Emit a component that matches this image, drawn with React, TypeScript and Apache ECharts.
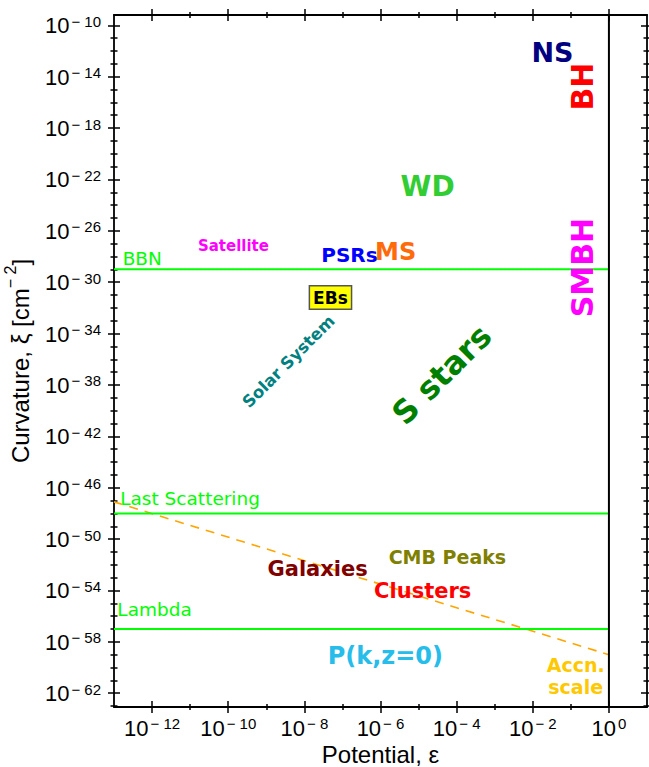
import React, { useEffect, useRef } from 'react';
import * as echarts from 'echarts';

const W = 649;
const H = 767;

// Axis ranges (actual values)
const xRange = [1e-13, 1e1];
const yRange = [8.5e-64, 6.3e-10];

// Tick exponents
const xMajorExp = [-12, -10, -8, -6, -4, -2, 0];
const xMinorExp = [-11, -9, -7, -5, -3, -1];
const yMajorExp = [-62, -58, -54, -50, -46, -42, -38, -34, -30, -26, -22, -18, -14, -10];
const yMinorExp = [
  -63, -61, -60, -59, -57, -56, -55, -53, -52, -51, -49, -48, -47, -45, -44, -43,
  -41, -40, -39, -37, -36, -35, -33, -32, -31, -29, -28, -27, -25, -24, -23, -21,
  -20, -19, -17, -16, -15, -13, -12, -11,
];

// Horizontal reference levels
const levelNames = ['BBN', 'Last Scattering', 'Lambda'];
const levelCurvature = [1e-29, 1e-48, 1e-57];
const levelLineX = [1e-13, 1];
const levelLabelX = [1.74e-13, 1.5e-13, 1.26e-13];
const levelLabelY = [6.3e-29, 1.26e-47, 2.9e-56];

// Unit potential line
const unitPotential = 1;

// Acceleration scale (dashed)
const accnX = [1e-13, 1];
const accnY = [7.9e-48, 1e-59];

// Annotations
const annotNames = [
  'NS', 'BH', 'WD', 'SMBH', 'Satellite', 'PSRs', 'MS', 'EBs', 'Solar System',
  'S stars', 'CMB Peaks', 'Galaxies', 'Clusters', 'P(k,z=0)', 'Accn.\nscale',
];
const annotX = [
  3.4e-2, 0.21, 1.78e-5, 0.21, 1.41e-10, 1.58e-7, 2.57e-6, 5.0e-8, 4.0e-9,
  4.2e-5, 5.9e-5, 2.3e-8, 1.32e-5, 1.38e-6, 0.138,
];
const annotY = [
  7.2e-13, 1.55e-15, 2.5e-23, 1.26e-29, 6.5e-28, 1.26e-28, 2.2e-28, 5.75e-32, 6.0e-37,
  5.75e-38, 3.9e-52, 4.5e-53, 8.7e-55, 7.6e-60, 2.1e-61,
];

// Styles (kept separate from data)
const annotStyle: Record<string, any> = {
  NS: { color: '#000080', fontSize: 27 },
  BH: { color: '#FF0000', fontSize: 30, rotate: 90 },
  WD: { color: '#32CD32', fontSize: 28 },
  SMBH: { color: '#FF00FF', fontSize: 30, rotate: 90 },
  Satellite: { color: '#FF00FF', fontSize: 15 },
  PSRs: { color: '#0000FF', fontSize: 20 },
  MS: { color: '#FF6A0A', fontSize: 24 },
  EBs: {
    color: '#000000', fontSize: 17, backgroundColor: '#FFFF00', borderColor: '#555555',
    borderWidth: 1.5, padding: [3, 3, 2, 3],
  },
  'Solar System': { color: '#008080', fontSize: 16.5, rotate: 45 },
  'S stars': { color: '#007F00', fontSize: 32, rotate: 45 },
  'CMB Peaks': { color: '#808000', fontSize: 19 },
  Galaxies: { color: '#800000', fontSize: 21 },
  Clusters: { color: '#FF0000', fontSize: 21 },
  'P(k,z=0)': { color: '#26BDEB', fontSize: 24 },
  'Accn.\nscale': { color: '#FFC800', fontSize: 19, lineHeight: 22 },
};

const GREEN = '#00FF00';
const lg = Math.log10;
const tickFont = 'Liberation Sans, Arial, sans-serif';
const annotFont = 'DejaVu Sans, sans-serif';

function supText(v: number): string {
  const r = Math.round(v);
  return r < 0 ? '\u2212 ' + String(-r) : String(r);
}

const tickRich = {
  b: { fontSize: 22, fontFamily: tickFont, color: '#000', lineHeight: 23, verticalAlign: 'bottom' },
  s: { fontSize: 15, fontFamily: tickFont, color: '#000', lineHeight: 14, verticalAlign: 'top', padding: [0, 0, 0, 2] },
};

function App() {
  const ref = useRef<HTMLDivElement>(null);
  useEffect(() => {
    document.body.style.margin = '0';
    if (!ref.current) return;
    const chart = echarts.init(ref.current, null, { renderer: 'svg' });

    const xMin = lg(xRange[0]);
    const xMax = lg(xRange[1]);
    const yMin = lg(yRange[0]);
    const yMax = lg(yRange[1]);
    const lineStyle = { color: '#000', width: 1.5 };

    const base = (min: number, max: number, position: string) => ({
      type: 'value',
      min,
      max,
      position,
      splitLine: { show: false },
      axisLine: { show: false, onZero: false },
      axisTick: { show: false },
      axisLabel: { show: false },
      silent: true,
    });
    const tickAxis = (
      min: number, max: number, position: string, values: number[], inside: boolean,
      length: number, showLine: boolean,
    ) => ({
      ...base(min, max, position),
      axisLine: { show: showLine, onZero: false, lineStyle: { color: '#000', width: 1.8 } },
      axisTick: { show: true, inside, length, customValues: values, lineStyle },
    });

    const xAxes: any[] = [
      {
        ...tickAxis(xMin, xMax, 'bottom', xMajorExp, false, 6, true),
        axisLabel: {
          show: true,
          customValues: xMajorExp,
          margin: 9,
          formatter: (v: number) => `{b|10}{s|${supText(v)}}`,
          rich: tickRich,
        },
        name: 'Potential, \u03b5',
        nameLocation: 'middle',
        nameGap: 35,
        nameMoveOverlap: false,
        nameTextStyle: { fontFamily: tickFont, fontSize: 24, color: '#000' },
      },
      tickAxis(xMin, xMax, 'bottom', xMajorExp, true, 6, false),
      tickAxis(xMin, xMax, 'bottom', xMinorExp, false, 3, false),
      tickAxis(xMin, xMax, 'bottom', xMinorExp, true, 3, false),
      tickAxis(xMin, xMax, 'top', xMajorExp, false, 6, true),
      tickAxis(xMin, xMax, 'top', xMajorExp, true, 6, false),
      tickAxis(xMin, xMax, 'top', xMinorExp, false, 3, false),
      tickAxis(xMin, xMax, 'top', xMinorExp, true, 3, false),
    ];
    const yAxes: any[] = [
      {
        ...tickAxis(yMin, yMax, 'left', yMajorExp, false, 6, true),
        axisLabel: {
          show: true,
          customValues: yMajorExp,
          margin: 13,
          formatter: (v: number) => `{b|10}{s|${supText(v)}}`,
          rich: tickRich,
        },
        name: '{n|Curvature, \u03be [cm}{s|\u2212 2}{n|]}',
        nameLocation: 'middle',
        nameGap: 82,
        nameMoveOverlap: false,
        nameTextStyle: {
          rich: {
            n: { fontFamily: tickFont, fontSize: 24, color: '#000', lineHeight: 30, verticalAlign: 'bottom' },
            s: { fontFamily: tickFont, fontSize: 16, color: '#000', lineHeight: 16, verticalAlign: 'top' },
          },
        },
      },
      tickAxis(yMin, yMax, 'left', yMajorExp, true, 6, false),
      tickAxis(yMin, yMax, 'left', yMinorExp, false, 3.5, false),
      tickAxis(yMin, yMax, 'left', yMinorExp, true, 3.5, false),
      tickAxis(yMin, yMax, 'right', yMajorExp, false, 6, true),
      tickAxis(yMin, yMax, 'right', yMajorExp, true, 6, false),
      tickAxis(yMin, yMax, 'right', yMinorExp, false, 3.5, false),
      tickAxis(yMin, yMax, 'right', yMinorExp, true, 3.5, false),
    ];

    const series: any[] = [];

    levelNames.forEach((name, i) => {
      series.push({
        type: 'line',
        name,
        xAxisIndex: 0,
        yAxisIndex: 0,
        showSymbol: false,
        silent: true,
        data: levelLineX.map((x) => [lg(x), lg(levelCurvature[i])]),
        lineStyle: { color: GREEN, width: 2 },
        z: 3,
      });
    });

    series.push({
      type: 'line',
      name: 'unit',
      showSymbol: false,
      silent: true,
      data: [
        [lg(unitPotential), yMin],
        [lg(unitPotential), yMax],
      ],
      lineStyle: { color: '#000', width: 2 },
      z: 3,
    });

    series.push({
      type: 'line',
      name: 'accn',
      showSymbol: false,
      silent: true,
      data: accnX.map((x, i) => [lg(x), lg(accnY[i])]),
      lineStyle: { color: '#FFA500', width: 1.6, type: [9, 7] },
      z: 2,
    });

    series.push({
      type: 'scatter',
      name: 'levels',
      symbolSize: 1,
      silent: true,
      itemStyle: { color: 'rgba(0,0,0,0)', opacity: 1 },
      data: levelNames.map((name, i) => ({
        value: [lg(levelLabelX[i]), lg(levelLabelY[i])],
        label: {
          show: true,
          position: [0, 0],
          align: 'left',
          verticalAlign: 'middle',
          formatter: name,
          color: GREEN,
          fontFamily: annotFont,
          fontSize: 18.5,
          textBorderWidth: 0,
          opacity: 1,
        },
      })),
      z: 5,
    });

    series.push({
      type: 'scatter',
      name: 'annotations',
      symbolSize: 1,
      silent: true,
      itemStyle: { color: 'rgba(0,0,0,0)', opacity: 1 },
      data: annotNames.map((name, i) => ({
        value: [lg(annotX[i]), lg(annotY[i])],
        label: {
          show: true,
          position: [0, 0],
          align: 'center',
          verticalAlign: 'middle',
          formatter: name,
          fontFamily: annotFont,
          fontWeight: 'bold',
          textBorderWidth: 0,
          opacity: 1,
          ...annotStyle[name],
        },
      })),
      z: 6,
    });

    chart.setOption({
      animation: false,
      backgroundColor: '#fff',
      grid: { left: 114, right: 2, top: 15, bottom: 60, containLabel: false, outerBoundsMode: 'none' },
      xAxis: xAxes,
      yAxis: yAxes,
      series,
    });
    return () => chart.dispose();
  }, []);
  return <div ref={ref} style={{ width: W, height: H }} />;
}

export default App;
